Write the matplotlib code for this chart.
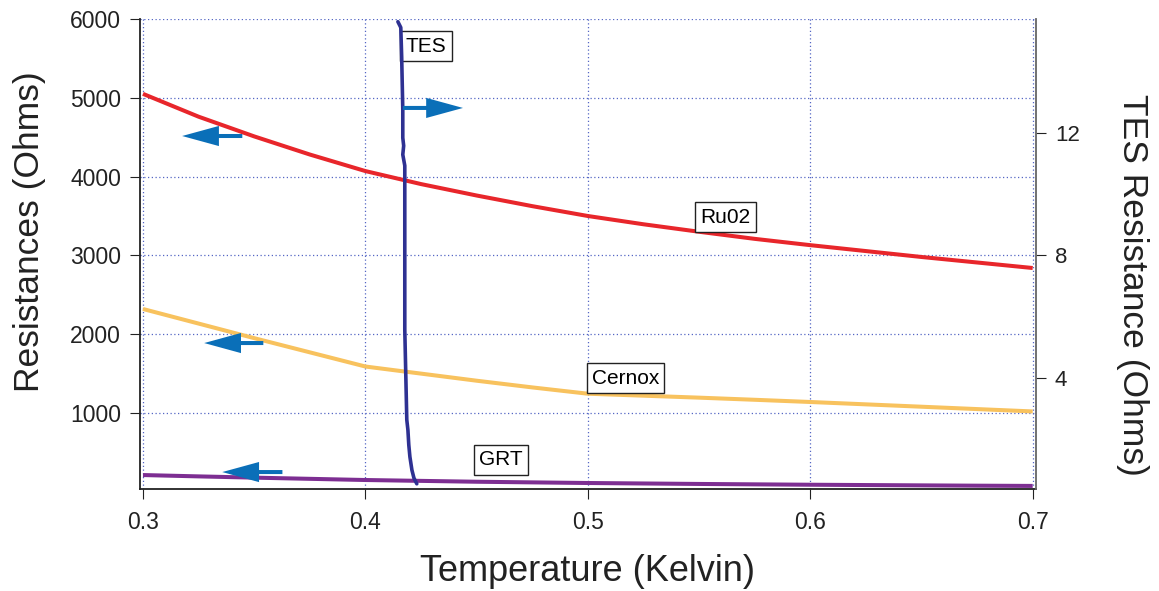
import matplotlib
matplotlib.use("Agg")
import matplotlib.pyplot as plt

plt.rcParams['font.family'] = ['Liberation Sans', 'DejaVu Sans']

# Temperature grid (Kelvin) for the thermometer calibrations
temperature = [0.300, 0.325, 0.350, 0.375, 0.400, 0.425, 0.450, 0.475, 0.500,
               0.525, 0.550, 0.575, 0.600, 0.625, 0.650, 0.675, 0.700]
ruo2 = [5050, 4760, 4510, 4280, 4070, 3905, 3760, 3625, 3500,
        3395, 3300, 3210, 3130, 3055, 2980, 2910, 2840]
cernox = [2320, 2135, 1950, 1770, 1590, 1500, 1410, 1325, 1245,
          1220, 1195, 1168, 1140, 1110, 1080, 1050, 1020]
grt = [213, 196, 180, 165, 150, 139, 128, 120, 112,
       106, 100, 95, 90, 86, 82, 78, 75]

# TES transition (right axis)
tes_T = [0.4146, 0.4155, 0.4159, 0.4163, 0.4168, 0.4168, 0.4172, 0.4168,
         0.4177, 0.4177, 0.4177, 0.4177, 0.4182, 0.4186, 0.4191, 0.4195,
         0.4200, 0.4209, 0.4218, 0.4231]
tes_R = [15.63, 15.50, 15.44, 14.49, 12.76, 11.84, 11.58, 11.29,
         10.93, 9.82, 7.20, 5.57, 3.93, 2.63, 2.30, 1.81,
         1.42, 0.99, 0.73, 0.54]

x_ticks = [0.3, 0.4, 0.5, 0.6, 0.7]
left_ticks = [1000, 2000, 3000, 4000, 5000, 6000]
right_ticks = [4, 8, 12]

RED = '#e8262b'
YELLOW = '#f8c25e'
PURPLE = '#7d2e92'
NAVY = '#2e3192'
ARROW = '#0a6fb8'
GRID = '#5466c4'

fig = plt.figure(figsize=(11.59, 5.91), dpi=100)
ax = fig.add_axes([0.1205, 0.1726, 0.8939 - 0.1205, 0.9679 - 0.1726])

ax.plot(temperature, ruo2, color=RED, lw=2.9, solid_capstyle='butt')
ax.plot(temperature, cernox, color=YELLOW, lw=2.9, solid_capstyle='butt')
ax.plot(temperature, grt, color=PURPLE, lw=2.9, solid_capstyle='butt')

ax.set_xlim(0.2985, 0.7015)
ax.set_ylim(36, 6000)
ax.set_xticks(x_ticks)
ax.set_xticklabels(['0.3', '0.4', '0.5', '0.6', '0.7'])
ax.set_yticks(left_ticks)
ax.grid(True, color=GRID, linestyle=(0, (1, 2)), linewidth=0.9)
ax.set_axisbelow(True)

ax.tick_params(axis='x', direction='out', length=7.5, width=0.8, pad=8,
               labelsize=16.5, colors='#222222')
ax.tick_params(axis='y', direction='out', length=7.5, width=0.8, pad=6,
               labelsize=16.5, colors='#222222')
ax.spines['top'].set_visible(False)
ax.spines['right'].set_visible(False)
for s in ('left', 'bottom'):
    ax.spines[s].set_linewidth(1.3)
    ax.spines[s].set_color('#222222')

ax.set_xlabel('Temperature (Kelvin)', fontsize=26, color='#222222', labelpad=15)
ax.set_ylabel('Resistances (Ohms)', fontsize=25.5, color='#222222', labelpad=17)
ax.yaxis.label.set_y(0.547)

box = dict(boxstyle='square,pad=0.25', facecolor='white', edgecolor='#222222', linewidth=1.0)
ax.text(0.4272, 5657, 'TES', fontsize=15, ha='center', va='center', bbox=box, zorder=5)
ax.text(0.5620, 3487, 'Ru02', fontsize=15, ha='center', va='center', bbox=box, zorder=5)
ax.text(0.5169, 1444, 'Cernox', fontsize=15, ha='center', va='center', bbox=box, zorder=5)
ax.text(0.4610, 404, 'GRT', fontsize=15, ha='center', va='center', bbox=box, zorder=5)

# Right-hand axis for the TES transition
ax2 = ax.twinx()
ax2.plot(tes_T, tes_R, color=NAVY, lw=2.6, solid_capstyle='round', solid_joinstyle='round')
ax2.set_ylim(0.37, 15.72)
ax2.set_yticks(right_ticks)
ax2.tick_params(axis='y', direction='out', length=7.5, width=0.8, pad=6,
                labelsize=16, colors='#222222')
ax2.spines['top'].set_visible(False)
ax2.spines['left'].set_visible(False)
ax2.spines['bottom'].set_visible(False)
ax2.spines['right'].set_linewidth(1.3)
ax2.spines['right'].set_color('#666666')
ax2.set_ylabel('TES Resistance (Ohms)', fontsize=25.5, color='#222222',
               rotation=270, labelpad=50)
ax2.yaxis.label.set_y(0.434)

# Arrows pointing each curve to its axis
arrow_style = 'simple,head_length=26.5,head_width=14.5,tail_width=2.9'
arrows = [((0.34465, 4515), (0.31759, 4515)),
          ((0.3541, 1888), (0.32751, 1888)),
          ((0.36268, 251), (0.33563, 251)),
          ((0.4168, 4871), (0.44386, 4871))]
for tail, tip in arrows:
    ax2.annotate('', xy=tip, xytext=tail, xycoords=ax.transData,
                 textcoords=ax.transData,
                 arrowprops=dict(arrowstyle=arrow_style, mutation_scale=1,
                                 color=ARROW, shrinkA=0, shrinkB=0, lw=0))

fig.savefig('out.png', dpi=100)
